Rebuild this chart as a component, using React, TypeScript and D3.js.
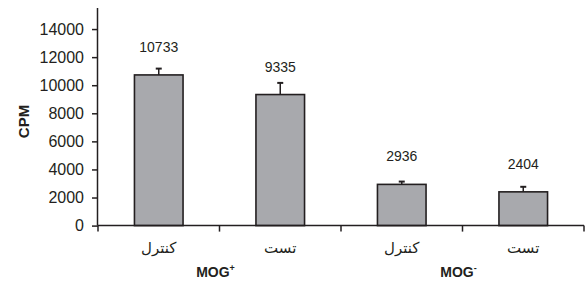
import React, { useEffect, useRef } from 'react';
import * as d3 from 'd3';

// chart values
const categories = ['c1', 't1', 'c2', 't2'];
const categoryLabels = ['کنترل', 'تست', 'کنترل', 'تست'];
const values = [10733, 9335, 2936, 2404];
const errors = [450, 830, 200, 360];
const groups = [
  { label: 'MOG', sup: '+', from: 0, to: 1 },
  { label: 'MOG', sup: '-', from: 2, to: 3 },
];
const yTicks = [0, 2000, 4000, 6000, 8000, 10000, 12000, 14000];

function BarChart() {
  const ref = useRef<SVGSVGElement | null>(null);

  useEffect(() => {
    const width = 587;
    const height = 282;
    const left = 98;
    const right = 584;
    const zeroY = 225.6;
    const topY = 8;

    const svg = d3.select(ref.current);
    svg.selectAll('*').remove();

    const x = d3.scaleBand<string>()
      .domain(categories)
      .range([left, right])
      .paddingInner(0.6)
      .paddingOuter(0.3);

    const y = d3.scaleLinear().domain([0, 15500]).range([zeroY, topY]);

    const font = 'Arial, "Liberation Sans", Helvetica, sans-serif';

    // bars
    svg.append('g')
      .selectAll('rect')
      .data(values)
      .join('rect')
      .attr('x', (d, i) => x(categories[i])!)
      .attr('y', d => y(d))
      .attr('width', x.bandwidth())
      .attr('height', d => y(0) - y(d))
      .attr('fill', '#a8a9ad')
      .attr('stroke', '#231f20')
      .attr('stroke-width', 1.6);

    // error bars
    const eb = svg.append('g').attr('stroke', '#231f20').attr('stroke-width', 1.5);
    values.forEach((v, i) => {
      const cx = x(categories[i])! + x.bandwidth() / 2;
      eb.append('line')
        .attr('x1', cx).attr('x2', cx)
        .attr('y1', y(v)).attr('y2', y(v + errors[i]));
      eb.append('line')
        .attr('x1', cx - 3).attr('x2', cx + 3)
        .attr('y1', y(v + errors[i])).attr('y2', y(v + errors[i]))
        .attr('stroke-width', 2);
    });

    // value labels
    svg.append('g')
      .selectAll('text')
      .data(values)
      .join('text')
      .attr('x', (d, i) => x(categories[i])! + x.bandwidth() / 2)
      .attr('y', d => y(d) - 23)
      .attr('text-anchor', 'middle')
      .style('font-family', font)
      .style('font-size', '14px')
      .attr('fill', '#231f20')
      .text(d => String(d));

    // y axis
    const yAxis = svg.append('g')
      .attr('transform', `translate(${left},0)`)
      .call(d3.axisLeft(y).tickValues(yTicks).tickSize(6).tickPadding(8).tickFormat(d3.format('d')));
    yAxis.select('.domain').attr('stroke', '#231f20').attr('stroke-width', 1.5)
      .attr('d', `M-0.5,${topY}V${zeroY}`);
    yAxis.selectAll('.tick line').attr('stroke', '#231f20').attr('stroke-width', 1.5);
    yAxis.selectAll('.tick text')
      .style('font-family', font)
      .style('font-size', '16px')
      .attr('fill', '#231f20');

    // x axis
    const step = x.step();
    const bounds = d3.range(categories.length + 1).map(i => left + i * step);
    const xa = svg.append('g').attr('stroke', '#231f20').attr('stroke-width', 1.5);
    xa.append('line').attr('x1', left).attr('x2', right).attr('y1', zeroY).attr('y2', zeroY);
    bounds.forEach(b => {
      xa.append('line').attr('x1', b).attr('x2', b).attr('y1', zeroY).attr('y2', zeroY + 6);
    });

    // category labels
    svg.append('g')
      .selectAll('text')
      .data(categoryLabels)
      .join('text')
      .attr('x', (d, i) => x(categories[i])! + x.bandwidth() / 2)
      .attr('y', 253)
      .attr('text-anchor', 'middle')
      .style('font-family', '"DejaVu Sans", sans-serif')
      .style('font-size', '15px')
      .attr('fill', '#231f20')
      .text(d => d);

    // group labels
    groups.forEach(g => {
      const cx = (x(categories[g.from])! + x(categories[g.to])! + x.bandwidth()) / 2;
      const t = svg.append('text')
        .attr('x', cx - 4)
        .attr('y', 277)
        .attr('text-anchor', 'middle')
        .style('font-family', font)
        .style('font-size', '14px')
        .style('font-weight', 'bold')
        .attr('fill', '#231f20');
      t.append('tspan').text(g.label);
      t.append('tspan').attr('dy', -6).style('font-size', '9px').text(g.sup);
    });

    // y label
    svg.append('text')
      .attr('transform', 'translate(29,121.5) rotate(-90)')
      .attr('text-anchor', 'middle')
      .style('font-family', font)
      .style('font-size', '15px')
      .style('font-weight', 'bold')
      .attr('fill', '#231f20')
      .text('CPM');

    svg.attr('width', width).attr('height', height);
  }, []);

  return (
    <svg ref={ref} width={587} height={282}
      style={{ position: 'absolute', left: 0, top: 0, background: '#fff' }} />
  );
}

export default function App() {
  return <BarChart />;
}
